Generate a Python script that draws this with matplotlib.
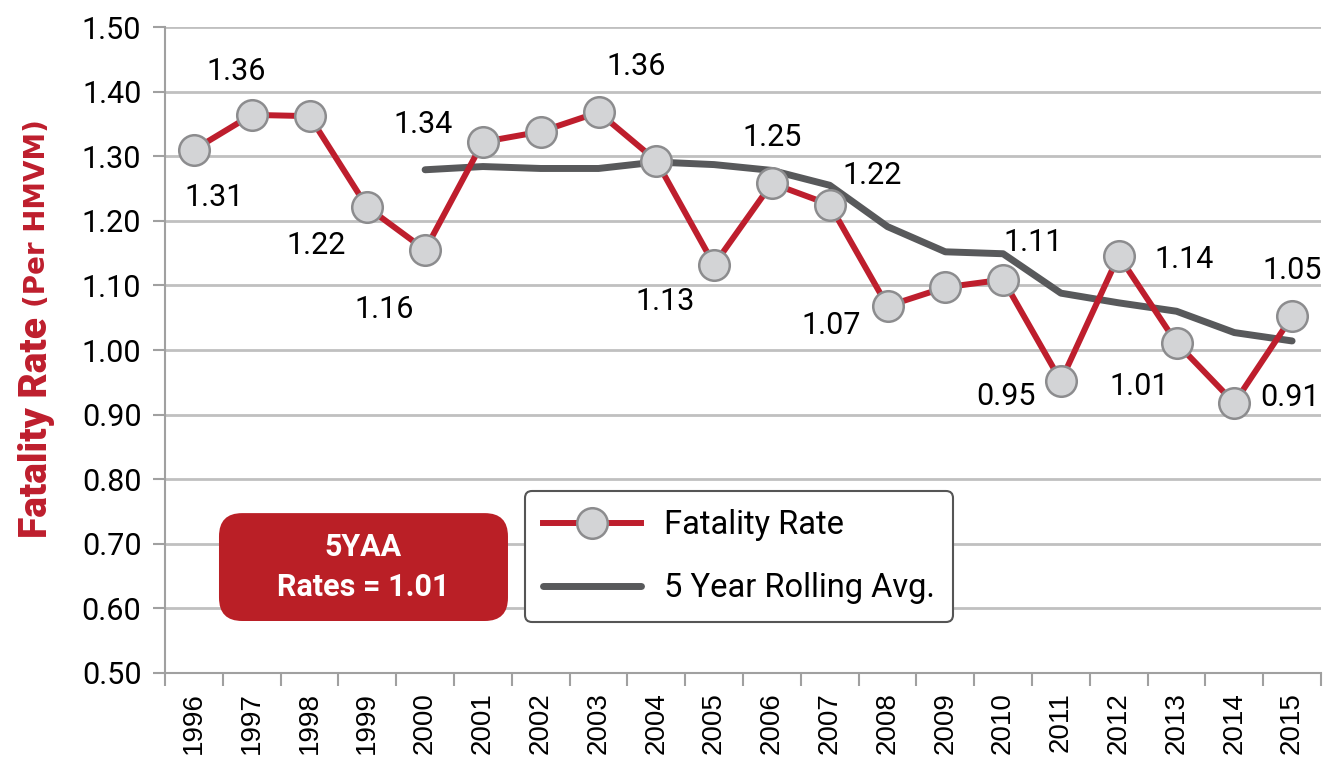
import matplotlib
matplotlib.use("Agg")
import matplotlib.pyplot as plt
import numpy as np
from matplotlib.patches import FancyBboxPatch

plt.rcParams['font.family'] = ['Roboto', 'DejaVu Sans']

years = [str(y) for y in range(1996, 2016)]
fatality = [1.31, 1.364, 1.362, 1.221, 1.155, 1.322, 1.338, 1.368, 1.293, 1.132,
            1.258, 1.225, 1.068, 1.097, 1.109, 0.952, 1.146, 1.011, 0.918, 1.052]
rolling_years = years[4:]
rolling = [1.279, 1.284, 1.281, 1.281, 1.291, 1.287, 1.278, 1.255, 1.191, 1.152,
           1.149, 1.088, 1.073, 1.060, 1.027, 1.014]
# value labels: (year index, text, dx px, dy px)
point_labels = [(0, "1.31", 20, -48), (1, "1.36", -16, 43), (3, "1.22", -51, -38),
                (4, "1.16", -41, -60), (5, "1.34", -60, 17), (7, "1.36", 38, 46),
                (9, "1.13", -49, -37), (10, "1.25", 0, 46), (11, "1.22", 42, 29),
                (12, "1.07", -56, -19), (14, "1.11", 30, 37), (15, "0.95", -55, -15),
                (16, "1.14", 65, -4), (17, "1.01", -37, -44), (18, "0.91", 56, 5),
                (19, "1.05", 0, 46)]
yticks = np.arange(0.5, 1.501, 0.1)

red = '#BE1E2D'
grey_line = '#58595B'

fig = plt.figure(figsize=(13.26, 7.6), dpi=100)
ax = fig.add_axes([165/1326, 87/760, 1156/1326, 646/760])

x = np.arange(len(years))
xr = np.arange(4, len(years))

ax.plot(xr, rolling, color=grey_line, lw=5, solid_capstyle='round', zorder=3,
        label='5 Year Rolling Avg.')
ax.plot(x, fatality, color=red, lw=4.3, marker='o', markersize=22,
        markerfacecolor='#D3D4D6', markeredgecolor='#8C8C8E', markeredgewidth=1.8,
        zorder=4, label='Fatality Rate')

for i, txt, dx, dy in point_labels:
    ax.annotate(txt, (x[i], fatality[i]), xytext=(dx * 0.72, dy * 0.72),
                textcoords='offset points', ha='center', va='center',
                fontsize=22, color='black', zorder=5)

ax.set_xlim(-0.5, len(years) - 0.5)
ax.set_ylim(0.5, 1.5)
ax.set_yticks(yticks)
ax.set_yticklabels([f"{v:.2f}" for v in yticks], fontsize=22)
ax.set_xticks(x)
ax.set_xticklabels(years, rotation=90, fontsize=20, family='Liberation Sans')
ax.set_xticks(np.arange(-0.5, len(years), 1), minor=True)
ax.tick_params(axis='x', which='major', length=0, pad=14)
ax.tick_params(axis='x', which='minor', length=9, width=1.5, color='#A0A0A0')
ax.tick_params(axis='y', length=9, width=1.5, color='#A0A0A0', pad=8)

ax.grid(axis='y', color='#C0C0C0', lw=2, zorder=0)
ax.set_axisbelow(True)
for s in ['top', 'right']:
    ax.spines[s].set_visible(False)
for s in ['left', 'bottom']:
    ax.spines[s].set_color('#A0A0A0')
    ax.spines[s].set_linewidth(1.5)

# y label in two parts
fig.text(37/1326, 1 - 538/760, "Fatality Rate", rotation=90, ha='center', va='bottom',
         fontsize=28, fontweight='black', color=red)
fig.text(37/1326, 1 - 307/760, "(Per HMVM)", rotation=90, ha='center', va='bottom',
         fontsize=20, fontweight='bold', color=red, family='DejaVu Sans')

# 5YAA box
box = FancyBboxPatch((0.0467, 0.0805), 0.25, 0.167, transform=ax.transAxes,
                     boxstyle='round,pad=0,rounding_size=0.02', facecolor='#BA1F26',
                     edgecolor='none', zorder=6, mutation_aspect=1.8)
ax.add_patch(box)
ax.text(0.0467 + 0.125, 0.0805 + 0.0835, "5YAA\nRates = 1.01", transform=ax.transAxes,
        ha='center', va='center', color='white', fontsize=22, fontweight='bold',
        linespacing=1.45, zorder=7)

handles, labels = ax.get_legend_handles_labels()
leg = ax.legend(handles[::-1], labels[::-1], loc='lower left', bbox_to_anchor=(0.3114, 0.079),
                fontsize=23.5, frameon=True, fancybox=True, handlelength=3.0,
                borderpad=0.55, labelspacing=0.95, handletextpad=0.7, borderaxespad=0)
leg.get_frame().set_edgecolor('#555555')
leg.get_frame().set_linewidth(1.5)
leg.get_frame().set_alpha(1)
leg.set_zorder(8)

fig.savefig("out.png", dpi=100)
